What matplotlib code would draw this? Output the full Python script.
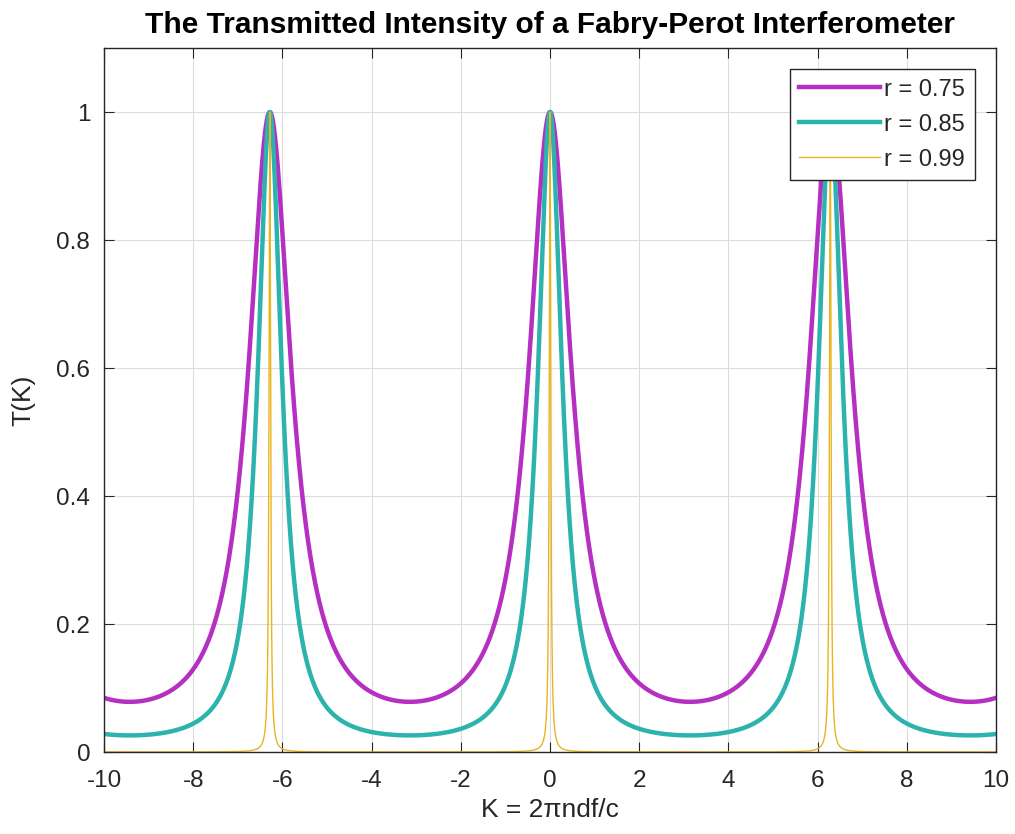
import numpy as np
import matplotlib.pyplot as plt

# mirror reflectivities shown in the legend
reflectivities = [0.75, 0.85, 0.99]
labels = ['r = 0.75', 'r = 0.85', 'r = 0.99']
colors = ['#B530C2', '#2DB3AE', '#E8B520']
widths = [3.2, 3.2, 1.0]

x_ticks = [-10, -8, -6, -4, -2, 0, 2, 4, 6, 8, 10]
y_ticks = [0, 0.2, 0.4, 0.6, 0.8, 1]
y_ticklabels = ['0', '0.2', '0.4', '0.6', '0.8', '1']

K = np.linspace(-10, 10, 20001)

plt.rcParams['font.family'] = ['Liberation Sans', 'DejaVu Sans']
plt.rcParams['axes.unicode_minus'] = False
txt = '#262626'

fig = plt.figure(figsize=(10.15, 8.34), dpi=100)
ax = fig.add_axes([0.1025, 0.0983, 0.8788, 0.8441])

for r, lab, c, w in zip(reflectivities, labels, colors, widths):
    # Airy transmission function
    T = (1 - r**2)**2 / (1 + r**4 - 2 * r**2 * np.cos(K))
    ax.plot(K, T, color=c, lw=w, label=lab)

ax.set_xlim(-10, 10)
ax.set_ylim(0, 1.1)
ax.set_xticks(x_ticks)
ax.set_yticks(y_ticks)
ax.set_yticklabels(y_ticklabels)
ax.tick_params(direction='in', top=True, right=True, labelsize=17.5, length=7,
               color=txt, labelcolor=txt)
ax.tick_params(axis='x', pad=13)
ax.tick_params(axis='y', pad=10)
ax.grid(True, color='#dcdcdc', lw=0.8)
for s in ax.spines.values():
    s.set_linewidth(1.0)
    s.set_color(txt)

ax.set_xlabel('K = 2πndf/c', fontsize=19, color=txt)
ax.set_ylabel('T(K)', fontsize=19, color=txt)
ax.xaxis.set_label_coords(0.5, -0.066)
ax.yaxis.set_label_coords(-0.077, 0.5)
ax.set_title('The Transmitted Intensity of a Fabry-Perot Interferometer',
             fontsize=21.5, fontweight='bold', pad=11, color='black')

leg = ax.legend(loc='upper right', prop={'size': 17}, fancybox=False, framealpha=1,
                edgecolor=txt, handlelength=3.4, handletextpad=0.2,
                borderaxespad=0.9, labelspacing=0.55, borderpad=0.4)
leg.get_frame().set_linewidth(1.0)
for t in leg.get_texts():
    t.set_color(txt)

fig.savefig('out.png', dpi=100)
